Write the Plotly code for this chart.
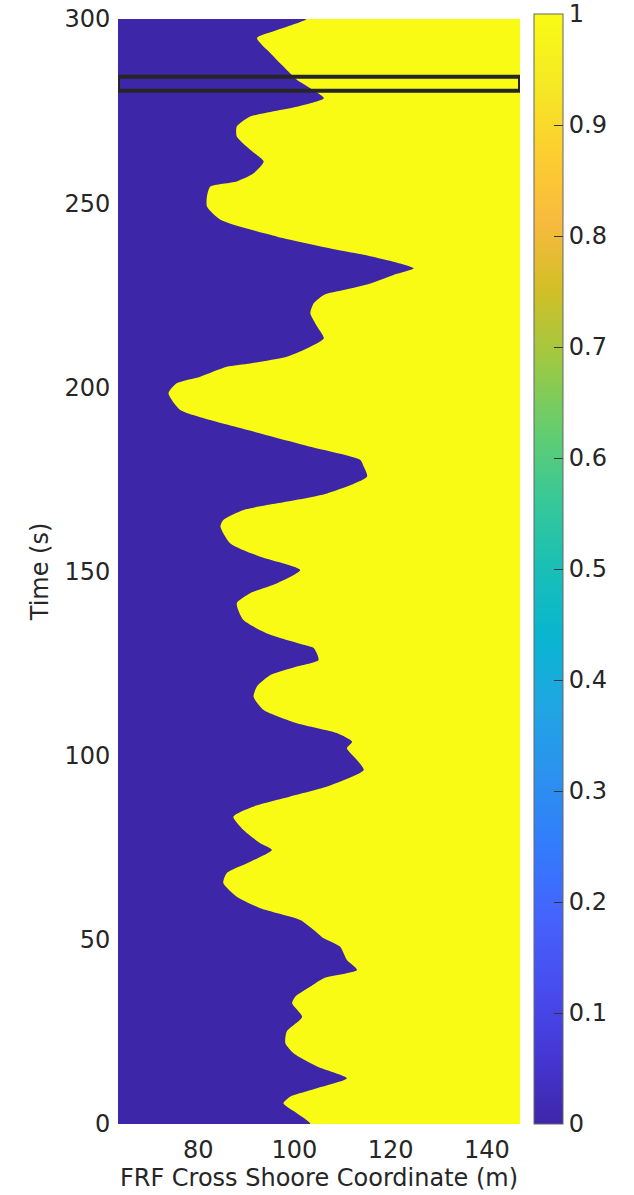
import plotly.graph_objects as go

# Shoreline (wet/dry boundary) position vs time
time_s = [0, 2.9, 5.6, 7.4, 9.7, 12.4, 15.6, 19.2, 21.9, 25.1, 29.1, 32.8, 34.6, 37.3, 39.6, 41.8,
          44.5, 48.1, 50.4, 52.7, 55.4, 58.6, 61.7, 65.4, 68.1, 71.2, 74.4, 76.2, 79.8, 83.4, 86.2,
          88.9, 91.6, 96.1, 98.8, 102.0, 103.8, 106.1, 108.8, 112.4, 116.0, 118.8, 121.9, 124.2,
          126.0, 129.2, 130.1, 133.2, 136.8, 141.4, 144.1, 146.8, 150.4, 154.0, 157.7, 162.2,
          164.0, 166.7, 168.5, 171.2, 175.8, 178.5, 180.3, 183.9, 187.5, 191.1, 193.9, 198.4,
          201.1, 202.9, 205.6, 206.5, 208.3, 211.0, 213.3, 216.5, 220.1, 222.8, 225.1, 226.4,
          228.2, 230.5, 232.3, 234.1, 236.0, 237.3, 240.9, 245.5, 249.1, 251.8, 254.5, 255.9,
          258.1, 261.3, 264.5, 268.1, 270.8, 273.5, 276.2, 278.5, 281.2, 283.5, 287.1, 290.7,
          294.8, 297.0, 300]
shore_x = [103.3, 100.5, 97.7, 99.1, 104.7, 110.9, 104.7, 99.8, 98.1, 98.4, 101.6, 99.5, 100.2,
           103.3, 106.1, 113.0, 110.9, 109.5, 106.1, 104.0, 101.2, 92.9, 88.0, 85.2, 85.9, 90.8,
           95.3, 92.9, 89.4, 87.3, 91.5, 99.1, 106.8, 114.4, 113.0, 110.9, 112.0, 108.9, 100.5,
           93.6, 91.5, 92.2, 95.0, 100.5, 105.0, 104.0, 101.9, 94.3, 89.4, 88.0, 90.8, 96.4,
           101.2, 92.9, 86.6, 84.6, 85.2, 89.4, 96.4, 106.8, 115.1, 114.4, 113.7, 103.3, 92.9,
           82.5, 76.2, 73.8, 75.5, 80.4, 85.9, 90.8, 98.4, 103.3, 106.1, 104.7, 103.3, 104.0,
           106.1, 110.2, 115.8, 120.6, 124.8, 120.6, 114.4, 109.0, 96.4, 84.6, 81.8, 81.8, 82.5,
           88.0, 91.5, 93.6, 90.8, 88.0, 88.0, 90.8, 100.5, 106.1, 103.3, 100.5, 97.7, 95.0,
           92.2, 96.4, 102.5]

x_range = [63.3, 146.9]
t_range = [0, 300]
x_ticks = [80, 100, 120, 140]
t_ticks = [0, 50, 100, 150, 200, 250, 300]
cbar_ticks = [0, 0.1, 0.2, 0.3, 0.4, 0.5, 0.6, 0.7, 0.8, 0.9, 1]
box_t = [280.5, 284.3]

parula = [
    [0.2422, 0.1504, 0.6603], [0.2706, 0.2147, 0.8364], [0.2813, 0.3006, 0.9414],
    [0.2699, 0.3892, 0.9906], [0.1963, 0.4847, 0.9892], [0.1687, 0.5703, 0.9359],
    [0.1248, 0.6459, 0.8883], [0.0297, 0.7082, 0.8163], [0.0964, 0.7500, 0.7120],
    [0.2161, 0.7843, 0.5923], [0.3909, 0.8029, 0.4354], [0.6174, 0.7876, 0.2612],
    [0.8203, 0.7498, 0.1535], [0.9728, 0.7298, 0.2394], [0.9892, 0.8136, 0.1885],
    [0.9597, 0.9135, 0.1423], [0.9769, 0.9839, 0.0805]]
n = len(parula)
colorscale = [[i / (n - 1), 'rgb(%d,%d,%d)' % tuple(round(c * 255) for c in rgb)]
              for i, rgb in enumerate(parula)]
low_col = colorscale[0][1]
high_col = colorscale[-1][1]

fig = go.Figure()

# wet (0) region: from left edge to the shoreline
fig.add_trace(go.Scatter(
    x=[x_range[0]] + shore_x + [x_range[0]],
    y=[time_s[0]] + time_s + [time_s[-1]],
    fill='toself', fillcolor=low_col, mode='lines',
    line=dict(width=0, color=low_col, shape='spline', smoothing=0.6),
    hoverinfo='skip', showlegend=False))

# colorbar carrier
fig.add_trace(go.Scatter(
    x=[x_range[0], x_range[0]], y=[t_range[0], t_range[0]], mode='markers',
    marker=dict(color=[0, 1], colorscale=colorscale, cmin=0, cmax=1, opacity=0, size=1,
                showscale=True,
                colorbar=dict(x=1 + 14 / 402, xanchor='left', xpad=0, thickness=29,
                              thicknessmode='pixels', len=1110 / 1105, lenmode='fraction',
                              y=0, yanchor='bottom', ypad=0,
                              tickvals=cbar_ticks, ticktext=[('%g' % v) for v in cbar_ticks],
                              ticks='inside', ticklen=9, tickcolor='#333333', tickwidth=1,
                              outlinecolor='#666666', outlinewidth=1,
                              ticklabeloverflow='allow',
                              tickfont=dict(family='DejaVu Sans', size=24, color='#262626'))),
    hoverinfo='skip', showlegend=False))

fig.add_shape(type='rect', xref='x', yref='y', x0=x_range[0], x1=x_range[1],
              y0=box_t[0], y1=box_t[1], line=dict(color='#262626', width=4))

font = dict(family='DejaVu Sans', size=24, color='#262626')
fig.update_layout(
    width=634, height=1195,
    margin=dict(l=118, r=114, t=19, b=71, autoexpand=False),
    paper_bgcolor='white', plot_bgcolor=high_col,
    font=font,
    xaxis=dict(range=x_range, tickvals=x_ticks, showgrid=False, zeroline=False, automargin=False,
               ticks='outside', ticklen=4, tickcolor='rgba(0,0,0,0)', ticklabeloverflow='allow',
               tickfont=font, title=dict(text='FRF Cross Shoore Coordinate (m)', font=font, standoff=0)),
    yaxis=dict(range=t_range, tickvals=t_ticks, showgrid=False, zeroline=False, automargin=False,
               ticks='outside', ticklen=2, tickcolor='rgba(0,0,0,0)', ticklabeloverflow='allow',
               tickfont=font, title=dict(text='Time (s)', font=font, standoff=8)),
)

fig.write_html('out.html', config={'displayModeBar': False},
               post_script="document.body.style.margin='0px';")
